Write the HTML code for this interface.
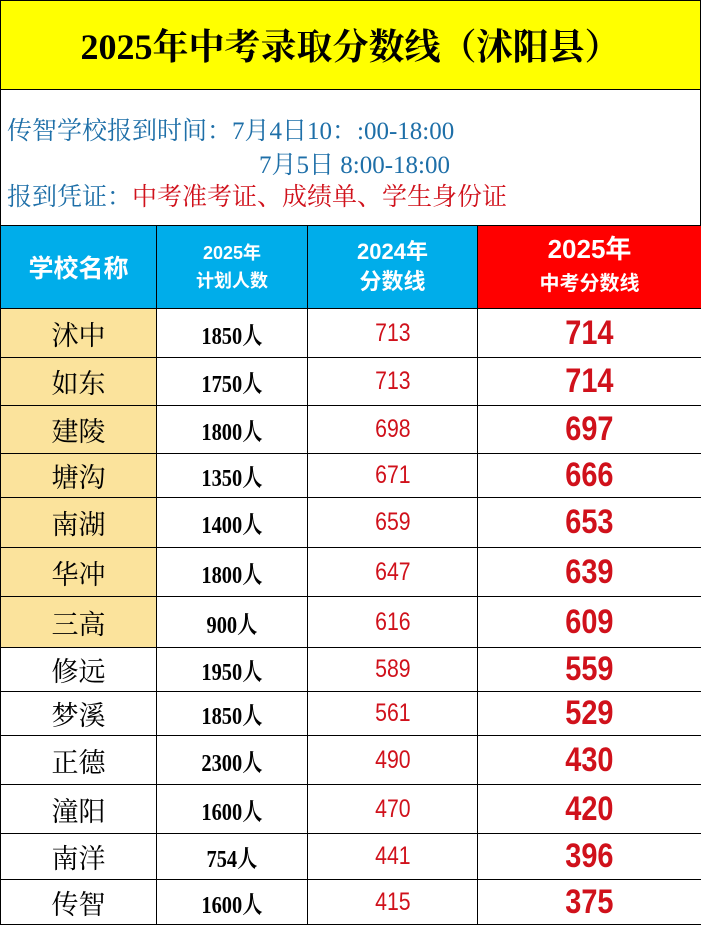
<!DOCTYPE html>
<html><head><meta charset="utf-8"><style>
body{margin:0;width:701px;height:925px;overflow:hidden;background:#fff;font-family:"Liberation Serif","Noto Serif CJK SC",serif}
#wrap{position:relative;width:701px;height:925px}
.title{position:absolute;left:0;top:0;width:699px;height:88px;background:#ffff00;border:1px solid #000;text-align:center;line-height:92px;font-size:36px;color:#000;font-weight:bold}
.info{position:absolute;left:0;top:89px;width:699px;height:136px;border-left:1px solid #000;border-right:1px solid #000}
.info div{position:absolute;font-size:25px;white-space:nowrap}
.blue{color:#1e6fa8}.red{color:#d0111b}
table{position:absolute;left:0;top:225px;border-collapse:collapse;width:701px;table-layout:fixed}
td{border:1px solid #000;text-align:center;padding:0;vertical-align:middle}
.h{background:#00adea;color:#fff;font-family:"Liberation Sans","Noto Sans CJK SC",sans-serif;font-weight:bold;border-color:#000}
.hr{background:#ff0000}
.name{font-size:27px;color:#000}
.y{background:#fbe39c}
.cnt{font-size:24px;font-weight:bold}
.s24{font-family:"Liberation Sans",sans-serif;font-size:25px;color:#d0111b}
.s25{font-family:"Liberation Sans",sans-serif;font-size:34px;font-weight:bold;color:#d0111b}
.sx{display:inline-block;transform:scaleX(0.85)}
</style></head><body><div id="wrap">
<div class="title">2025年中考录取分数线（沭阳县）</div>
<div class="info">
<div class="blue" style="left:6px;top:22px">传智学校报到时间：7月4日10：:00-18:00</div>
<div class="blue" style="left:258px;top:56px">7月5日 8:00-18:00</div>
<div style="left:6px;top:88px"><span class="blue">报到凭证：</span><span class="red">中考准考证、成绩单、学生身份证</span></div>
</div>
<table>
<colgroup><col style="width:156px"><col style="width:151px"><col style="width:170px"><col style="width:224px"></colgroup>
<tr style="height:83px">
<td class="h" style="font-size:25px">学校名称</td>
<td class="h" style="font-size:18px;line-height:28px">2025年<br>计划人数</td>
<td class="h" style="font-size:22px;line-height:30px">2024年<br>分数线</td>
<td class="h hr" style="line-height:30px"><span style="font-size:26px">2025年</span><br><span style="font-size:20px">中考分数线</span></td>
</tr>
<tbody id="tb"></tbody>
</table>
</div>
<script>
const schools=["沭中","如东","建陵","塘沟","南湖","华冲","三高","修远","梦溪","正德","潼阳","南洋","传智"];
const plans=[1850,1750,1800,1350,1400,1800,900,1950,1850,2300,1600,754,1600];
const scores2024=[713,713,698,671,659,647,616,589,561,490,470,441,415];
const scores2025=[714,714,697,666,653,639,609,559,529,430,420,396,375];
const rowH=[49,48,48,44,50,49,51,44,44,49,49,46,45];
const tb=document.getElementById('tb');
schools.forEach((s,i)=>{
 const tr=document.createElement('tr');
 
 
 tr.style.height=rowH[i]+'px';
 const c1=document.createElement('td');c1.className='name'+(i<7?' y':'');c1.textContent=s;
 
 
 const c2=document.createElement('td');c2.className='cnt';c2.innerHTML='<span class="sx">'+plans[i]+'人</span>';
 
 
 const c3=document.createElement('td');c3.className='s24';c3.innerHTML='<span class="sx">'+scores2024[i]+'</span>';
 
 
 const c4=document.createElement('td');c4.className='s25';c4.innerHTML='<span class="sx">'+scores2025[i]+'</span>';
 
 
 tr.append(c1,c2,c3,c4);tb.appendChild(tr);
});
</script>
</body></html>
